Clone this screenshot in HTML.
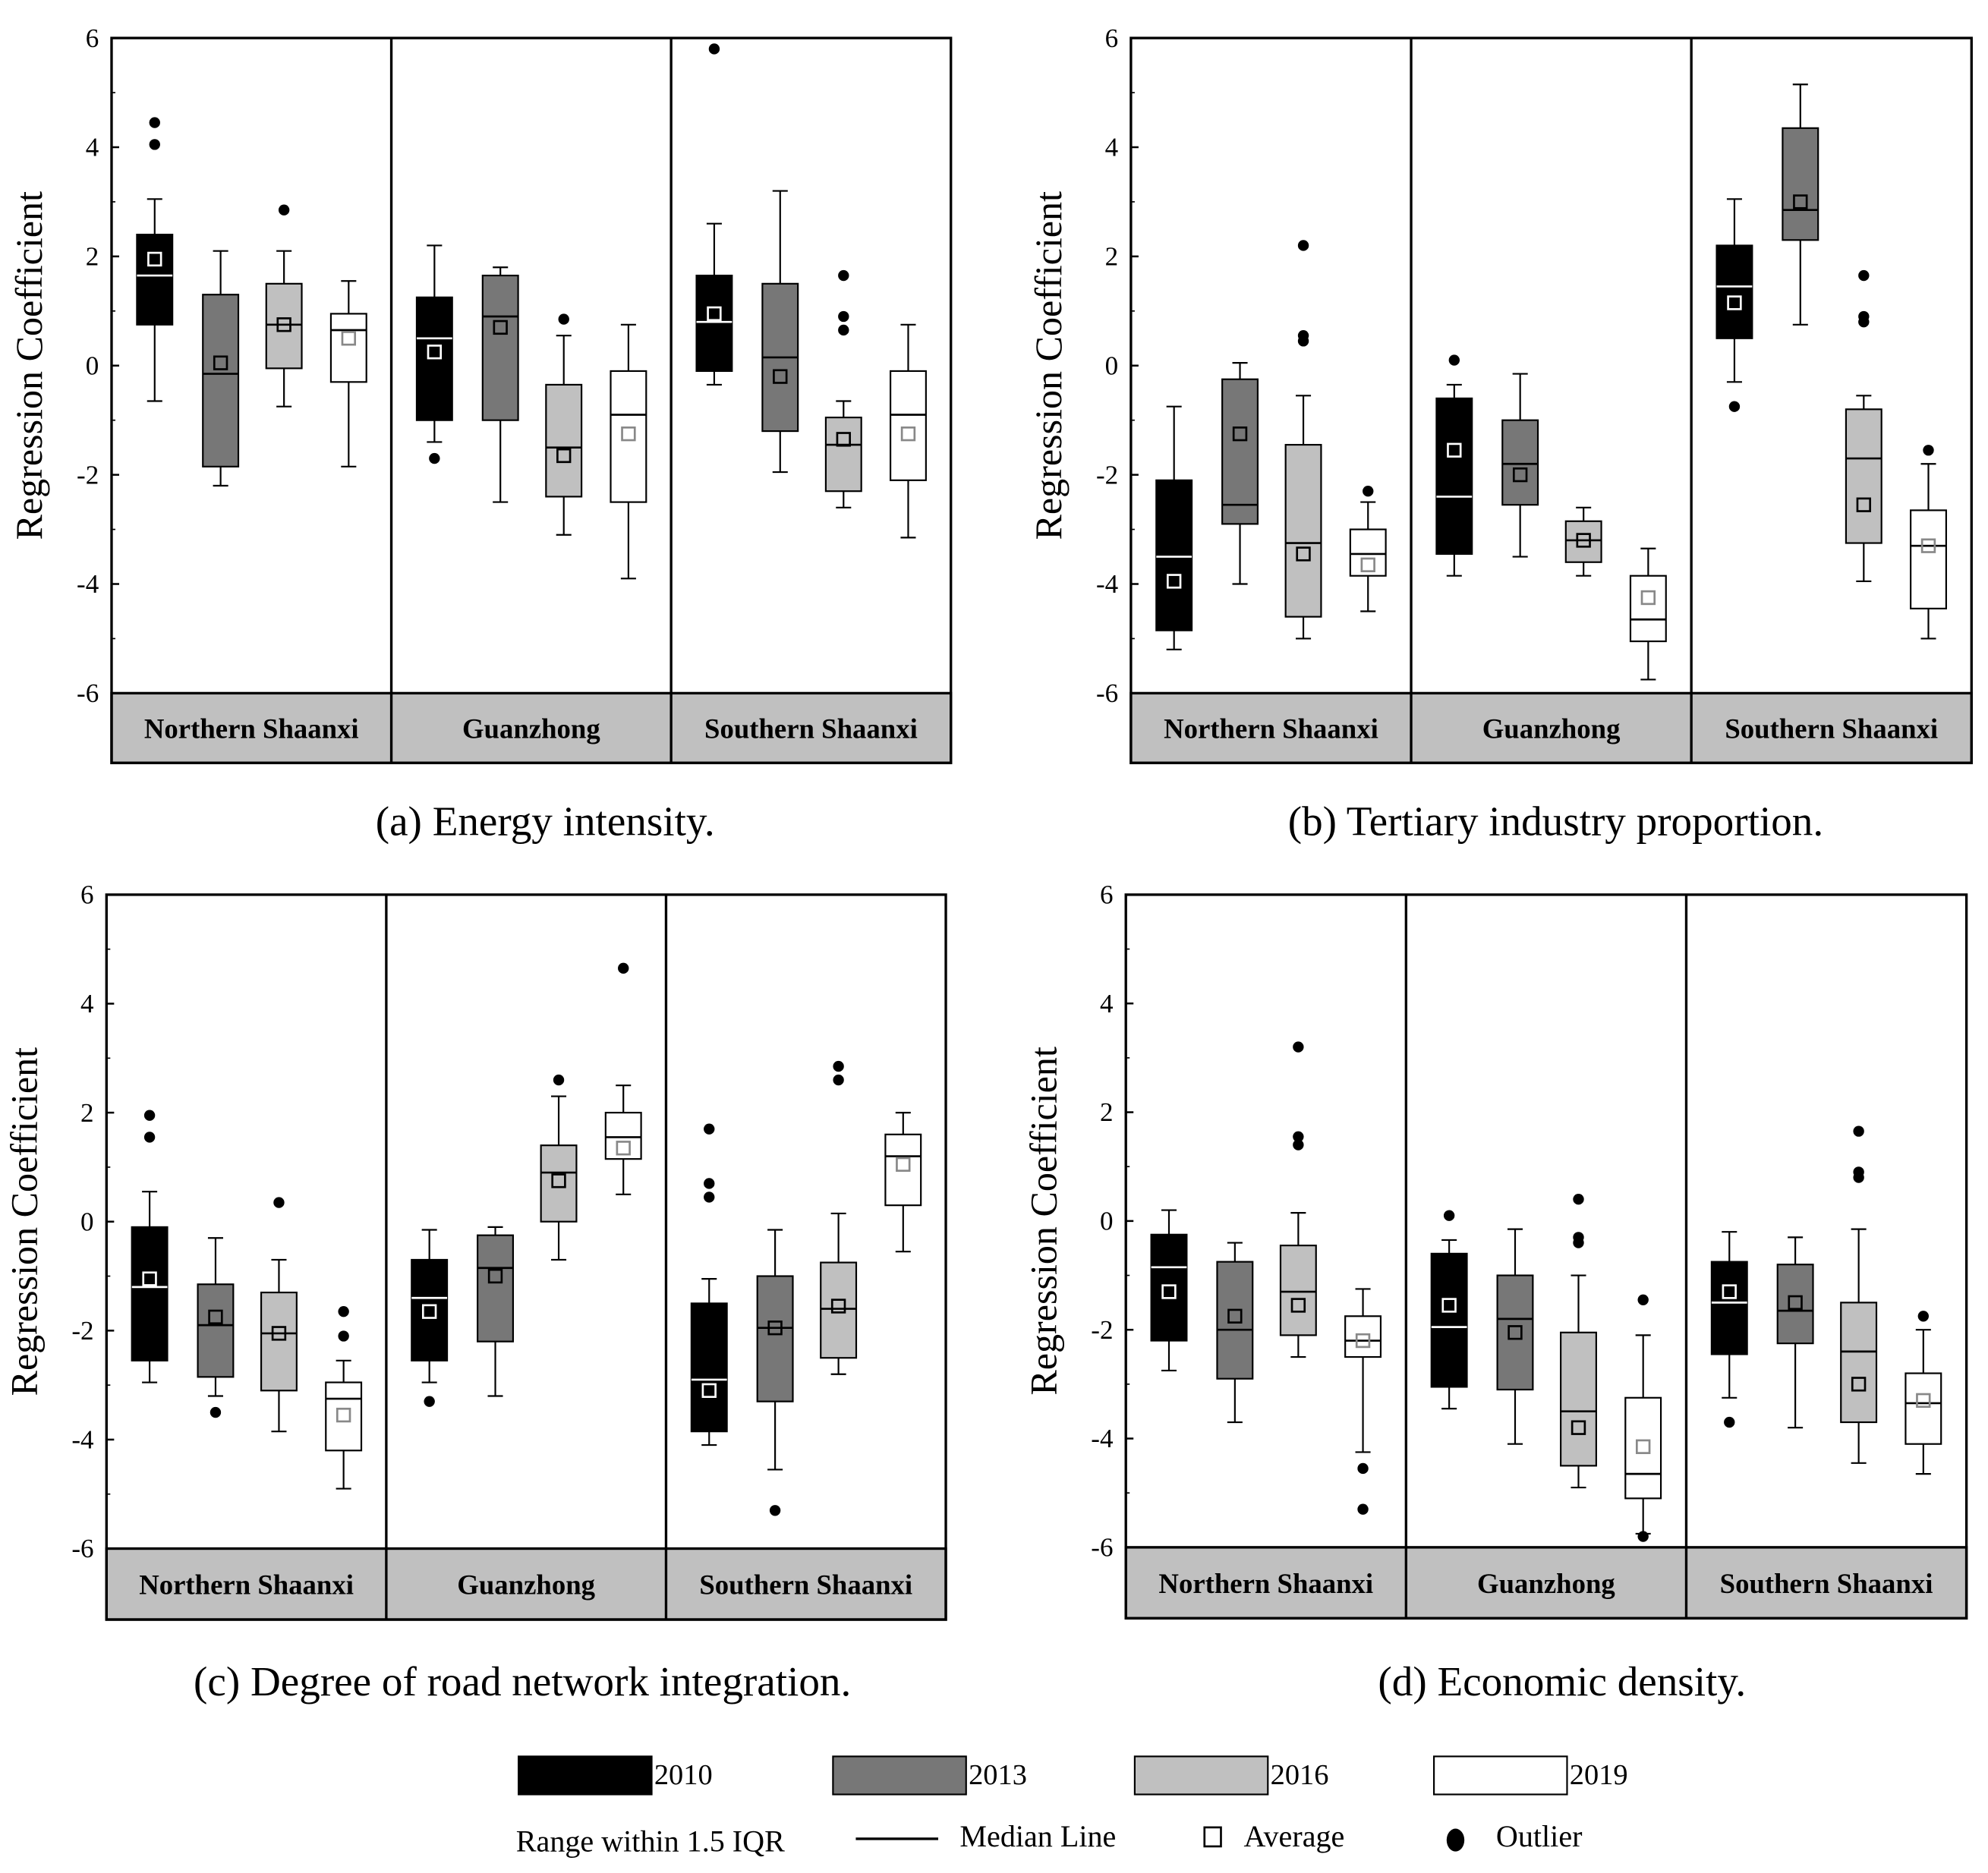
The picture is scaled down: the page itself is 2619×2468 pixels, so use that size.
<!DOCTYPE html>
<html><head><meta charset="utf-8"><style>html,body{margin:0;padding:0;background:#fff}svg{display:block}</style></head>
<body>
<svg id="fig" xmlns="http://www.w3.org/2000/svg" width="2619" height="2468" viewBox="0 0 1568 1478" preserveAspectRatio="none" font-family="Liberation Serif, serif"></svg>
<script>
// box data: [whiskerLow, q1, median, q3, whiskerHigh, mean, outliers]
const years = ["2010","2013","2016","2019"];
const regions = ["Northern Shaanxi","Guanzhong","Southern Shaanxi"];
const yTicks = [6,4,2,0,-2,-4,-6];
const tickLabels = ["6","4","2","0","-2","-4","-6"];
const captions = ["(a)  Energy intensity.","(b) Tertiary industry proportion.","(c)  Degree of road network integration.","(d) Economic density."];
const dataA = [
 [[-0.65,0.75,1.65,2.4,3.05,1.95,[4.05,4.45]],[-2.2,-1.85,-0.15,1.3,2.1,0.05,[]],[-0.75,-0.05,0.75,1.5,2.1,0.75,[2.85]],[-1.85,-0.3,0.65,0.95,1.55,0.5,[]]],
 [[-1.4,-1.0,0.5,1.25,2.2,0.25,[-1.7]],[-2.5,-1.0,0.9,1.65,1.8,0.7,[]],[-3.1,-2.4,-1.5,-0.35,0.55,-1.65,[0.85]],[-3.9,-2.5,-0.9,-0.1,0.75,-1.25,[]]],
 [[-0.35,-0.1,0.8,1.65,2.6,0.95,[5.8]],[-1.95,-1.2,0.15,1.5,3.2,-0.2,[]],[-2.6,-2.3,-1.45,-0.95,-0.65,-1.35,[0.65,0.9,1.65]],[-3.15,-2.1,-0.9,-0.1,0.75,-1.25,[]]]];
const dataB = [
 [[-5.2,-4.85,-3.5,-2.1,-0.75,-3.95,[]],[-4.0,-2.9,-2.55,-0.25,0.05,-1.25,[]],[-5.0,-4.6,-3.25,-1.45,-0.55,-3.45,[0.45,0.55,2.2]],[-4.5,-3.85,-3.45,-3.0,-2.5,-3.65,[-2.3]]],
 [[-3.85,-3.45,-2.4,-0.6,-0.35,-1.55,[0.1]],[-3.5,-2.55,-1.8,-1.0,-0.15,-2.0,[]],[-3.85,-3.6,-3.2,-2.85,-2.6,-3.2,[]],[-5.75,-5.05,-4.65,-3.85,-3.35,-4.25,[]]],
 [[-0.3,0.5,1.45,2.2,3.05,1.15,[-0.75]],[0.75,2.3,2.85,4.35,5.15,3.0,[]],[-3.95,-3.25,-1.7,-0.8,-0.55,-2.55,[0.8,0.9,1.65]],[-5.0,-4.45,-3.3,-2.65,-1.8,-3.3,[-1.55]]]];
const dataC = [
 [[-2.95,-2.55,-1.2,-0.1,0.55,-1.05,[1.55,1.95]],[-3.2,-2.85,-1.9,-1.15,-0.3,-1.75,[-3.5]],[-3.85,-3.1,-2.05,-1.3,-0.7,-2.05,[0.35]],[-4.9,-4.2,-3.25,-2.95,-2.55,-3.55,[-2.1,-1.65]]],
 [[-2.95,-2.55,-1.4,-0.7,-0.15,-1.65,[-3.3]],[-3.2,-2.2,-0.85,-0.25,-0.1,-1.0,[]],[-0.7,0.0,0.9,1.4,2.3,0.75,[2.6]],[0.5,1.15,1.55,2.0,2.5,1.35,[4.65]]],
 [[-4.1,-3.85,-2.9,-1.5,-1.05,-3.1,[0.45,0.7,1.7]],[-4.55,-3.3,-1.95,-1.0,-0.15,-1.95,[-5.3]],[-2.8,-2.5,-1.6,-0.75,0.15,-1.55,[2.6,2.85]],[-0.55,0.3,1.2,1.6,2.0,1.05,[]]]];
const dataD = [
 [[-2.75,-2.2,-0.85,-0.25,0.2,-1.3,[]],[-3.7,-2.9,-2.0,-0.75,-0.4,-1.75,[]],[-2.5,-2.1,-1.3,-0.45,0.15,-1.55,[1.4,1.55,3.2]],[-4.25,-2.5,-2.2,-1.75,-1.25,-2.2,[-4.55,-5.3]]],
 [[-3.45,-3.05,-1.95,-0.6,-0.35,-1.55,[0.1]],[-4.1,-3.1,-1.8,-1.0,-0.15,-2.05,[]],[-4.9,-4.5,-3.5,-2.05,-1.0,-3.8,[-0.4,-0.3,0.4]],[-5.75,-5.1,-4.65,-3.25,-2.1,-4.15,[-1.45,-5.8]]],
 [[-3.25,-2.45,-1.5,-0.75,-0.2,-1.3,[-3.7]],[-3.8,-2.25,-1.65,-0.8,-0.3,-1.5,[]],[-4.45,-3.7,-2.4,-1.5,-0.15,-3.0,[0.8,0.9,1.65]],[-4.65,-4.1,-3.35,-2.8,-2.0,-3.3,[-1.75]]]];

const fills=["#000","#777","#c0c0c0","#fff"];
const medCol=["#fff","#000","#000","#000"];
const meanCol=["#fff","#000","#000","#888"];
const NS="http://www.w3.org/2000/svg";
const svg=document.getElementById('fig');
function mk(tag,attrs,parent,text){const e=document.createElementNS(NS,tag);for(const k in attrs)e.setAttribute(k,attrs[k]);if(text!==undefined)e.textContent=text;(parent||svg).appendChild(e);return e;}

const panels=[
 {d:dataA,l:88,r:750,t:30,b:547,bb:602,cx:430,cy:659},
 {d:dataB,l:892,r:1555,t:30,b:547,bb:602,cx:1227,cy:659},
 {d:dataC,l:84,r:746,t:706,b:1222,bb:1278,cx:412,cy:1338},
 {d:dataD,l:888,r:1551,t:706,b:1221,bb:1277,cx:1232,cy:1338}];
const offs=[34,86,136,187];
panels.forEach((p,pi)=>{
 const g=mk('g',{});
 
 
 const ys=v=>p.t+(6-v)*(p.b-p.t)/12;
 const rw=(p.r-p.l)/3;
 const band=mk('rect',{x:p.l,y:p.b,width:p.r-p.l,height:p.bb-p.b,fill:'#c0c0c0',stroke:'#000','stroke-width':2},g);
 
 
 mk('rect',{x:p.l,y:p.t,width:p.r-p.l,height:p.bb-p.t,fill:'none',stroke:'#000','stroke-width':2},g);
 for(let i=1;i<3;i++) mk('line',{x1:p.l+rw*i,x2:p.l+rw*i,y1:p.t,y2:p.bb,stroke:'#000','stroke-width':2},g);
 regions.forEach((rn,ri)=>{
  const t=mk('text',{x:p.l+rw*ri+rw/2,y:(p.b+p.bb)/2+8,'text-anchor':'middle','font-size':22,'font-weight':'bold'},g,rn);
  
  
 });
 yTicks.forEach((v,i)=>{
  const y=ys(v);
  mk('line',{x1:p.l,x2:p.l+6,y1:y,y2:y,stroke:'#000','stroke-width':1.5},g);
  if(v>-6) mk('line',{x1:p.l,x2:p.l+3,y1:ys(v-1),y2:ys(v-1),stroke:'#000','stroke-width':1},g);
  const t=mk('text',{x:p.l-10,y:y+7,'text-anchor':'end','font-size':21},g,tickLabels[i]);
  
  
 });
 const yl=mk('text',{x:0,y:0,transform:`translate(${p.l-55},${(p.t+p.b)/2}) rotate(-90)`,'text-anchor':'middle','font-size':30},g,'Regression Coefficient');
 
 
 const cap=mk('text',{x:p.cx,y:p.cy,'text-anchor':'middle','font-size':33},g,captions[pi]);
 
 
 p.d.forEach((reg,ri)=>{
  reg.forEach((b,yi)=>{
   const cx=p.l+rw*ri+offs[yi], w=28;
   const bg=mk('g',{},g);
   
   
   mk('line',{x1:cx,x2:cx,y1:ys(b[0]),y2:ys(b[4]),stroke:'#000','stroke-width':1.3},bg);
   mk('line',{x1:cx-6,x2:cx+6,y1:ys(b[0]),y2:ys(b[0]),stroke:'#000','stroke-width':1.3},bg);
   mk('line',{x1:cx-6,x2:cx+6,y1:ys(b[4]),y2:ys(b[4]),stroke:'#000','stroke-width':1.3},bg);
   mk('rect',{x:cx-w/2,y:ys(b[3]),width:w,height:ys(b[1])-ys(b[3]),fill:fills[yi],stroke:'#000','stroke-width':1.3},bg);
   mk('line',{x1:cx-w/2,x2:cx+w/2,y1:ys(b[2]),y2:ys(b[2]),stroke:medCol[yi],'stroke-width':1.6},bg);
   mk('rect',{x:cx-5,y:ys(b[5])-5,width:10,height:10,fill:'none',stroke:meanCol[yi],'stroke-width':1.6},bg);
   b[6].forEach(o=>mk('circle',{cx:cx,cy:ys(o),r:4.3,fill:'#000'},bg));
  });
 });
});
const lg=mk('g',{});


const lx=[409,657,895,1131];
years.forEach((yr,i)=>{
 const e=mk('g',{},lg);
 
 
 mk('rect',{x:lx[i],y:1386,width:105,height:30,fill:fills[i],stroke:'#000','stroke-width':1.3},e);
 mk('text',{x:lx[i]+107,y:1408,'font-size':23},e,yr);
});
const l2=[['Range within 1.5 IQR',407],['Median Line',757],['Average',981],['Outlier',1180]];
l2.forEach(a=>mk('text',{x:a[1],y:a[0]=='Range within 1.5 IQR'?1461:1457,'font-size':24},lg,a[0]));
mk('line',{x1:675,x2:740,y1:1451,y2:1451,stroke:'#000','stroke-width':2},lg);
mk('rect',{x:950,y:1442,width:13,height:15,fill:'none',stroke:'#000','stroke-width':1.6},lg);
mk('ellipse',{cx:1148,cy:1452,rx:7,ry:9,fill:'#000'},lg);
</script>
</body></html>
